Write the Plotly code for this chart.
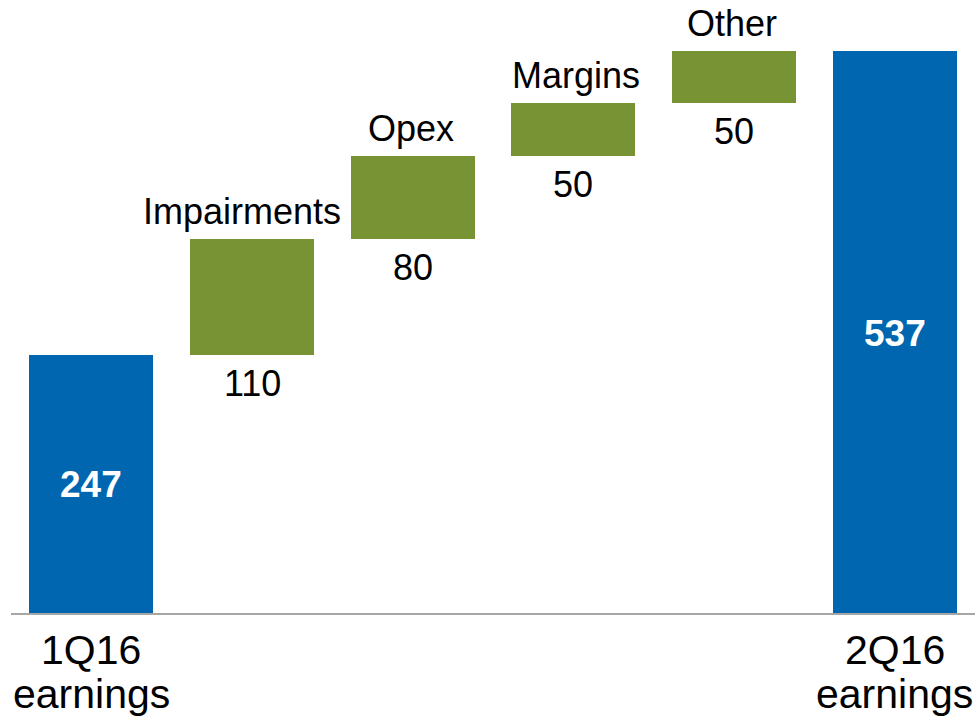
import plotly.graph_objects as go

# Earnings bridge 1Q16 -> 2Q16
labels = ["1Q16<br>earnings", "Impairments", "Opex", "Margins", "Other", "2Q16<br>earnings"]
start_value = 247
deltas = [110, 80, 50, 50]
end_value = 537

BLUE = "#0066B0"
GREEN = "#789334"
FONT = "Liberation Sans, Arial, sans-serif"

# build floating bases for the change bars
bases = [0]
heights = [start_value]
running = start_value
for d in deltas:
    bases.append(running)
    heights.append(d)
    running += d
bases.append(0)
heights.append(end_value)
colors = [BLUE] + [GREEN] * len(deltas) + [BLUE]
xs = list(range(len(labels)))

# small horizontal nudges for the names above the change bars (px)
name_xshift = {1: -10, 2: -2, 3: 3, 4: -2}

fig = go.Figure()
fig.add_trace(go.Bar(
    x=xs, y=heights, base=bases,
    marker=dict(color=colors, line=dict(width=0)),
    width=0.773, hoverinfo="skip",
))

annotations = []
# totals: bold white value centred in the bar, two-line label under the axis
for i in (0, len(labels) - 1):
    annotations.append(dict(
        x=xs[i], y=heights[i] / 2, xref="x", yref="y",
        text="<b>%d</b>" % heights[i], showarrow=False,
        font=dict(family=FONT, size=37, color="white"),
        xanchor="center", yanchor="middle", yshift=-1))
    top, bottom = labels[i].split("<br>")
    annotations.append(dict(
        x=xs[i], y=0, xref="x", yref="paper", text=top, showarrow=False,
        font=dict(family=FONT, size=41, color="black"),
        xanchor="center", yanchor="top", yshift=-13, borderpad=0))
    annotations.append(dict(
        x=xs[i], y=0, xref="x", yref="paper", text=bottom, showarrow=False,
        font=dict(family=FONT, size=41, color="black"),
        xanchor="center", yanchor="top", yshift=-57, borderpad=0))

# changes: name above the bar, amount below it
for i in range(1, len(labels) - 1):
    annotations.append(dict(
        x=xs[i], y=bases[i] + heights[i], xref="x", yref="y",
        text=labels[i], showarrow=False,
        font=dict(family=FONT, size=36, color="black"),
        xanchor="center", yanchor="bottom", yshift=5,
        xshift=name_xshift.get(i, 0)))
    annotations.append(dict(
        x=xs[i], y=bases[i], xref="x", yref="y",
        text=str(heights[i]), showarrow=False,
        font=dict(family=FONT, size=36, color="black"),
        xanchor="center", yanchor="top", yshift=-6))

fig.update_layout(
    width=979, height=723,
    margin=dict(l=11, r=4, t=6, b=110),
    paper_bgcolor="white", plot_bgcolor="white",
    showlegend=False,
    bargap=0,
    annotations=annotations,
    xaxis=dict(range=[-0.5, len(labels) - 0.5], showticklabels=False,
               showgrid=False, zeroline=False, ticks="",
               showline=True, linecolor="#A6A6A6", linewidth=2),
    yaxis=dict(range=[0, 580], visible=False, showgrid=False, zeroline=False),
)

fig.write_html("out.html")
